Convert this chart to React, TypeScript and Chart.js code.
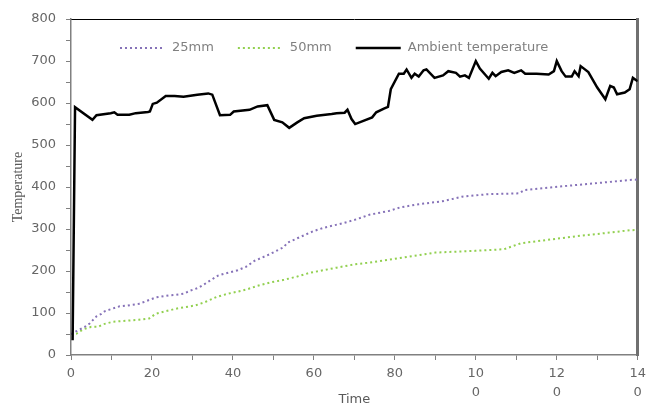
import { useEffect, useRef } from 'react';
import { Chart, registerables } from 'chart.js';

Chart.register(...registerables);

// ---- data ----
const seriesLabels = ['25mm', '50mm', 'Ambient temperature'];

const time25 = [0, 1, 2.2, 3.4, 4.6, 6.3, 7.5, 8.3, 9.5, 12, 14, 16.8, 18.5, 20.9, 24.1, 25.8, 27.8, 29.4, 31.5, 33.5, 36.3, 38, 41.2, 43.2, 45.3, 49.3, 52.6, 53.4, 55.9, 59.9, 62.4, 67.2, 70.1, 73.7, 78.5, 81.5, 85.9, 91.7, 96.6, 103, 110.7, 112, 118.5, 124.9, 130.7, 138, 140];
const temp25 = [50, 55, 61, 67, 75, 92, 98, 104, 108, 116, 118, 122, 128, 137, 142, 143, 146, 153, 160, 172, 189, 194, 202, 210, 224, 241, 257, 267, 278, 295, 303, 314, 322, 334, 343, 352, 359, 366, 377, 383, 385, 393, 399, 405, 410, 417, 418];

const time50 = [0, 1.4, 3, 5, 6.7, 7.9, 10.3, 12.8, 16.8, 19.3, 20.9, 23.3, 25.8, 28.2, 30.7, 33.1, 35.9, 38.8, 41.2, 43.7, 46.1, 49.3, 52.6, 55.9, 59.1, 62.4, 65.6, 70.1, 73.7, 81.9, 90, 99.8, 107, 111.1, 118.5, 125, 130.7, 138, 140];
const temp50 = [50, 51, 61, 67, 67, 73, 79, 81, 84, 87, 98, 104, 110, 114, 118, 126, 138, 146, 151, 157, 165, 173, 179, 187, 196, 202, 208, 216, 220, 232, 244, 248, 252, 266, 275, 283, 289, 297, 298];

const timeAmb = [0.4, 1, 5.3, 6.3, 9.8, 10.7, 11.5, 14.4, 16, 19, 19.5, 20.2, 21.2, 23.4, 25.6, 27.8, 31.2, 33.9, 34.9, 36.8, 39.3, 40.2, 44.1, 46.1, 48.5, 50.2, 52.2, 53.9, 55.9, 57.6, 60.7, 64.4, 65.6, 67.6, 68.3, 69.3, 70.2, 74.4, 75.4, 77.3, 78.3, 79, 81, 82.2, 82.9, 84.1, 84.9, 85.9, 87.1, 87.8, 89.8, 91.9, 93.2, 95.1, 96.1, 97.3, 98.3, 100, 101, 103.2, 104.1, 104.9, 106.3, 108, 109.5, 111.2, 112.2, 115, 118, 119.3, 120, 121.2, 122.2, 123.7, 124.4, 125.4, 125.9, 127.8, 130, 132, 133.2, 134.1, 134.9, 136.8, 138, 138.8, 140];
const tempAmb = [35, 590, 560, 571, 576, 578, 572, 572, 576, 579, 580, 598, 601, 617, 617, 615, 620, 623, 620, 571, 572, 580, 584, 592, 595, 560, 554, 541, 554, 564, 570, 574, 576, 577, 584, 562, 550, 566, 578, 587, 591, 633, 670, 670, 680, 660, 670, 663, 678, 680, 660, 666, 676, 672, 663, 666, 660, 700, 682, 658, 672, 664, 674, 678, 672, 678, 670, 670, 668, 676, 700, 676, 663, 663, 676, 664, 688, 674, 637, 609, 641, 637, 621, 625, 633, 660, 652];

const xMin = 0;
const xMax = 140;
const yMin = 0;
const yMax = 800;

const toPoints = (xs: number[], ys: number[]) => xs.map((x, i) => ({ x, y: ys[i] }));

const TICK_FONT = { family: 'DejaVu Sans', size: 13, lineHeight: 1.4 };
const TICK_COLOR = '#666666';

const insideLegend = {
  id: 'insideLegend',
  afterDraw(chart: any, _args: any, opts: any) {
    const { ctx, chartArea } = chart;
    ctx.save();
    ctx.font = opts.font;
    ctx.textBaseline = 'middle';
    let x = chartArea.left + opts.offsetX;
    const y = chartArea.top + opts.offsetY;
    chart.data.datasets.forEach((ds: any) => {
      ctx.beginPath();
      ctx.setLineDash(ds.borderDash || []);
      ctx.strokeStyle = ds.borderColor;
      ctx.lineWidth = ds.borderWidth;
      ctx.moveTo(x, y);
      ctx.lineTo(x + opts.sampleWidth, y);
      ctx.stroke();
      ctx.setLineDash([]);
      x += opts.sampleWidth + opts.textGap;
      ctx.fillStyle = opts.color;
      ctx.fillText(ds.label, x, y);
      x += ctx.measureText(ds.label).width + opts.itemGap;
    });
    ctx.restore();
  },
};

export default function App() {
  const canvasRef = useRef<HTMLCanvasElement | null>(null);

  useEffect(() => {
    document.body.style.margin = '0';
    const canvas = canvasRef.current;
    if (!canvas) return;
    const chart = new Chart(canvas, {
      type: 'line',
      data: {
        datasets: [
          {
            label: seriesLabels[0],
            data: toPoints(time25, temp25),
            borderColor: '#8672B8',
            borderWidth: 2,
            borderDash: [2, 3],
            pointRadius: 0,
            tension: 0,
            order: 2,
          },
          {
            label: seriesLabels[1],
            data: toPoints(time50, temp50),
            borderColor: '#92D050',
            borderWidth: 2,
            borderDash: [2, 3],
            pointRadius: 0,
            tension: 0,
            order: 3,
          },
          {
            label: seriesLabels[2],
            data: toPoints(timeAmb, tempAmb),
            borderColor: '#000000',
            borderWidth: 2.5,
            pointRadius: 0,
            tension: 0,
            order: 1,
          },
        ],
      },
      options: {
        responsive: false,
        animation: false,
        layout: { padding: { top: 16, right: 6, left: 0, bottom: 0 } },
        plugins: {
          legend: { display: false },
          tooltip: { enabled: false },
          insideLegend: {
            font: '13px "DejaVu Sans"',
            color: '#808080',
            offsetX: 49,
            offsetY: 29,
            sampleWidth: 45,
            textGap: 7,
            itemGap: 24,
          },
        } as any,
        scales: {
          x: {
            type: 'linear',
            min: xMin,
            max: xMax,
            afterFit: (s: any) => { s.height = 52; },
            ticks: {
              stepSize: 10,
              autoSkip: false,
              maxRotation: 0,
              padding: 5,
              color: TICK_COLOR,
              font: TICK_FONT,
              callback: (v: any) => {
                const n = Number(v);
                if (n % 20 !== 0) return '';
                const s = String(n);
                return s.length > 2 ? [s.slice(0, 2), s.slice(2)] : s;
              },
            },
            grid: { drawOnChartArea: false, drawTicks: true, tickLength: 5, color: '#808080' },
            border: { color: '#808080', width: 1.5 },
            title: {
              display: true,
              text: 'Time',
              color: '#595959',
              font: { family: 'DejaVu Sans', size: 13 },
              padding: { top: 0, bottom: 0 },
            },
          },
          x2: {
            type: 'linear',
            position: 'top',
            min: xMin,
            max: xMax,
            afterFit: (s: any) => { s.height = 0; },
            ticks: { display: false },
            grid: { display: false },
            border: { color: '#000000', width: 1 },
          },
          y: {
            min: yMin,
            max: yMax,
            afterFit: (s: any) => { s.width = 71; },
            ticks: {
              stepSize: 50,
              autoSkip: false,
              padding: 10,
              color: TICK_COLOR,
              font: TICK_FONT,
              callback: (v: any) => (Number(v) % 100 === 0 ? String(v) : ''),
            },
            grid: { drawOnChartArea: false, drawTicks: true, tickLength: 5, color: '#808080' },
            border: { color: '#808080', width: 1.5 },
            title: {
              display: true,
              text: 'Temperature',
              color: '#595959',
              font: { family: 'Liberation Serif', size: 14 },
              padding: { top: 10, bottom: 0 },
            },
          },
          y2: {
            position: 'right',
            min: yMin,
            max: yMax,
            afterFit: (s: any) => { s.width = 0; },
            ticks: { display: false },
            grid: { display: false },
            border: { color: '#707070', width: 3 },
          },
        },
      },
      plugins: [insideLegend],
    });
    return () => chart.destroy();
  }, []);

  return (
    <div style={{ width: 651, height: 407 }}>
      <canvas ref={canvasRef} width={651} height={407} style={{ display: 'block' }} />
    </div>
  );
}
